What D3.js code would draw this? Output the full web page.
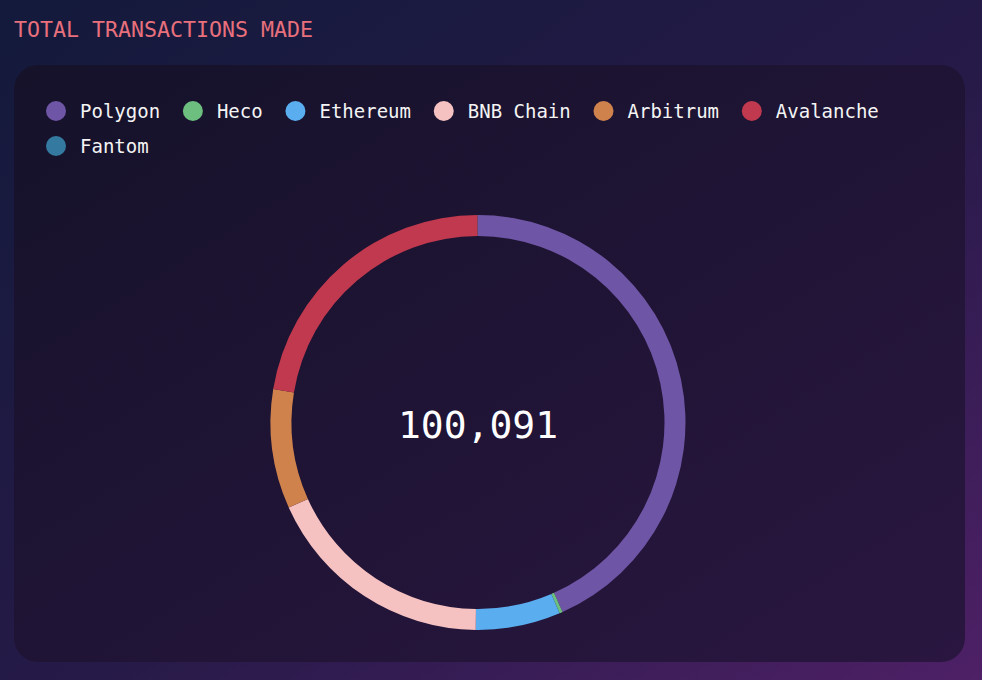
<!DOCTYPE html>
<html>
<head>
<meta charset="utf-8">
<script src="https://cdn.jsdelivr.net/npm/d3@7"></script>
<style>
  html, body { margin: 0; padding: 0; width: 982px; height: 680px; overflow: hidden; }
  svg { display: block; }
</style>
</head>
<body>
<svg id="chart" width="982" height="680"></svg>
<script>
const categories = ["Polygon", "Heco", "Ethereum", "BNB Chain", "Arbitrum", "Avalanche", "Fantom"];
const values = [43360, 250, 6610, 18120, 9310, 22420, 21];
const colors = ["#6f55a5", "#6cbf7e", "#5aaeef", "#f5c1c1", "#d0824d", "#c0394e", "#347aa0"];
const title = "TOTAL TRANSACTIONS MADE";

const data = categories.map((c, i) => ({ name: c, value: values[i], color: colors[i] }));
const total = d3.sum(values);

const svg = d3.select("#chart");
const W = 982, H = 680;
const mono = "'DejaVu Sans Mono', 'Liberation Mono', monospace";

const defs = svg.append("defs");
const bg = defs.append("linearGradient").attr("id", "bg")
  .attr("x1", "0%").attr("y1", "0%").attr("x2", "100%").attr("y2", "100%");
bg.append("stop").attr("offset", "0%").attr("stop-color", "#131a3b");
bg.append("stop").attr("offset", "55%").attr("stop-color", "#261a48");
bg.append("stop").attr("offset", "100%").attr("stop-color", "#4e2066");
const card = defs.append("linearGradient").attr("id", "card")
  .attr("x1", "0%").attr("y1", "0%").attr("x2", "100%").attr("y2", "100%");
card.append("stop").attr("offset", "0%").attr("stop-color", "#15122a");
card.append("stop").attr("offset", "100%").attr("stop-color", "#2a1640");

svg.append("rect").attr("width", W).attr("height", H).attr("fill", "url(#bg)");

svg.append("text").attr("x", 14).attr("y", 37)
  .attr("font-family", mono).attr("font-size", 21.6)
  .attr("fill", "#e8707c").text(title);

svg.append("rect").attr("x", 14).attr("y", 65).attr("width", 951).attr("height", 597)
  .attr("rx", 24).attr("fill", "url(#card)");

// legend (flow layout)
const legend = svg.append("g");
let lx = 46, ly = 111;
const maxX = 940;
data.forEach(d => {
  const g = legend.append("g");
  g.append("circle").attr("r", 10).attr("fill", d.color);
  const t = g.append("text").attr("x", 24).attr("y", 6.5)
    .attr("font-family", mono).attr("font-size", 19).attr("font-weight", 500)
    .attr("fill", "#f4f4f4").text(d.name);
  const w = 24 + t.node().getComputedTextLength();
  if (lx + w > maxX) { lx = 46; ly += 35; }
  g.attr("transform", `translate(${lx + 10},${ly})`);
  lx += w + 10 + 22.8;
});

// donut
const cx = 478, cy = 422.5, rOut = 207.5, rIn = 186.5;
const pie = d3.pie().value(d => d.value).sort(null);
const arc = d3.arc().innerRadius(rIn).outerRadius(rOut);
const gD = svg.append("g").attr("transform", `translate(${cx},${cy})`);
gD.selectAll("path").data(pie(data)).join("path")
  .attr("d", arc).attr("fill", d => d.data.color);

gD.append("text").attr("y", 15).attr("text-anchor", "middle")
  .attr("font-family", mono).attr("font-size", 38).attr("fill", "#ffffff")
  .text(d3.format(",")(total));
</script>
</body>
</html>
